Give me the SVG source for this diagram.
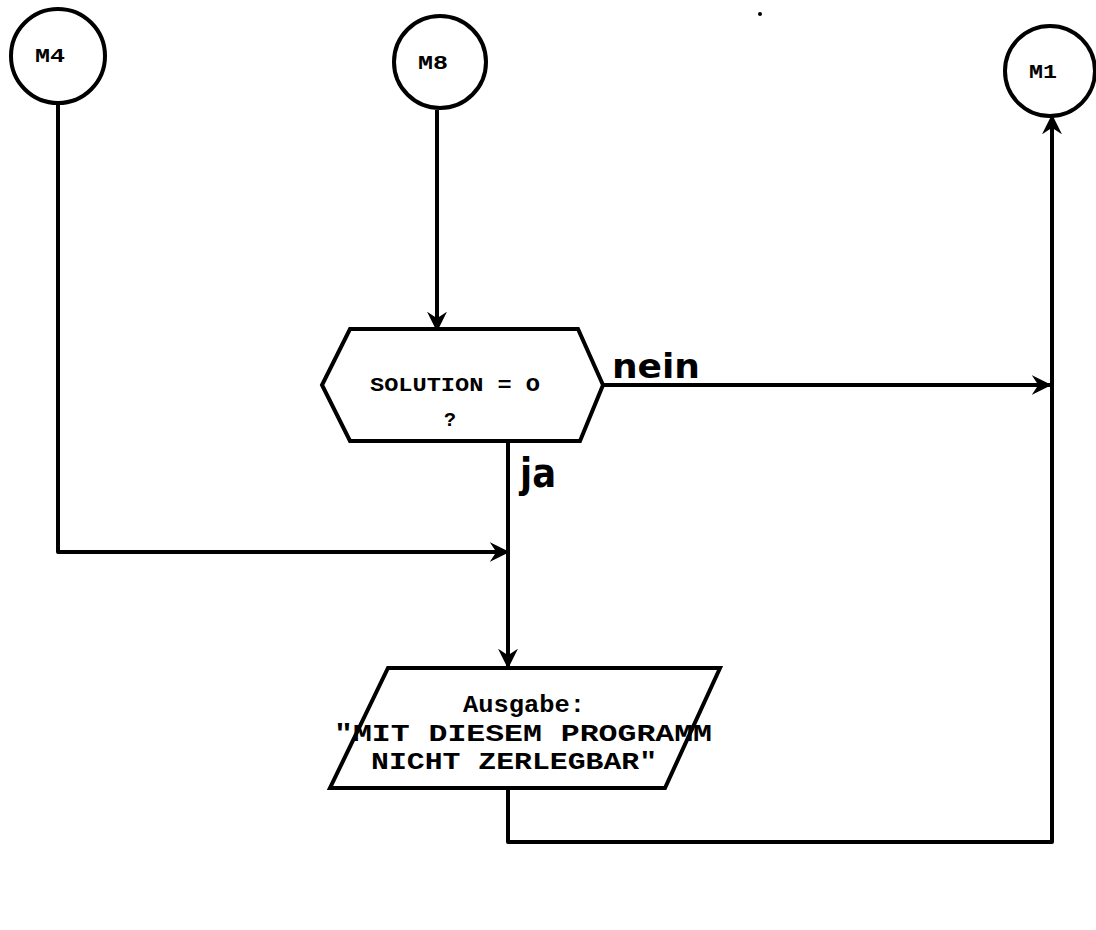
<svg xmlns="http://www.w3.org/2000/svg" width="1096" height="930" viewBox="0 0 1096 930">
<style>
.s{fill:none;stroke:#000;stroke-width:4;stroke-linejoin:round}
.c{fill:#fff;stroke:#000;stroke-width:4}
.m{font-family:"Liberation Mono",monospace;font-weight:bold;fill:#000;text-anchor:middle}
.l{font-family:"DejaVu Sans",sans-serif;font-weight:bold;fill:#000}
</style>
<defs>
<marker id="a" viewBox="0 0 12 12" refX="11" refY="6" markerWidth="5" markerHeight="5" markerUnits="strokeWidth" orient="auto">
<path d="M0,0 L12,6 L0,12 L4,6 z" fill="#000"/>
</marker>
</defs>
<rect width="1096" height="930" fill="#fff"/>
<circle cx="760" cy="14" r="2" fill="#000"/>
<g id="connectors">
<path class="s" d="M58,104 V552 H508" marker-end="url(#a)"/>
<path class="s" d="M437,110 V330" marker-end="url(#a)"/>
<path class="s" d="M603,385 H1050" marker-end="url(#a)"/>
<path class="s" d="M508,441 V667" marker-end="url(#a)"/>
<path class="s" d="M508,788 V842 H1052 V116" marker-end="url(#a)"/>
</g>
<g id="M4">
<circle class="c" cx="58" cy="56" r="47"/>
<text class="m" x="50" y="62" font-size="21" textLength="30" lengthAdjust="spacingAndGlyphs">M4</text>
</g>
<g id="M8">
<circle class="c" cx="440" cy="62" r="46"/>
<text class="m" x="433" y="69" font-size="21" textLength="30" lengthAdjust="spacingAndGlyphs">M8</text>
</g>
<g id="M1">
<circle class="c" cx="1050" cy="71" r="45"/>
<text class="m" x="1043" y="78" font-size="21" textLength="28" lengthAdjust="spacingAndGlyphs">M1</text>
</g>
<g id="decision">
<polygon class="c" points="350,329 578,329 603,385 580,441 350,441 322,385"/>
<text class="m" x="455" y="391" font-size="20" textLength="170" lengthAdjust="spacingAndGlyphs">SOLUTION = O</text>
<text class="m" x="450" y="426" font-size="20">?</text>
<text class="l" x="612" y="378" font-size="34" textLength="88" lengthAdjust="spacingAndGlyphs">nein</text>
<text class="l" x="520" y="487" font-size="40" textLength="36" lengthAdjust="spacingAndGlyphs">ja</text>
</g>
<g id="output">
<polygon class="c" points="388,668 720,668 665,788 330,788"/>
<text class="m" x="524" y="712" font-size="24" textLength="122" lengthAdjust="spacingAndGlyphs">Ausgabe:</text>
<text class="m" x="523" y="741" font-size="24" textLength="378" lengthAdjust="spacingAndGlyphs">"MIT DIESEM PROGRAMM</text>
<text class="m" x="514" y="769" font-size="24" textLength="286" lengthAdjust="spacingAndGlyphs">NICHT ZERLEGBAR"</text>
</g>
</svg>
